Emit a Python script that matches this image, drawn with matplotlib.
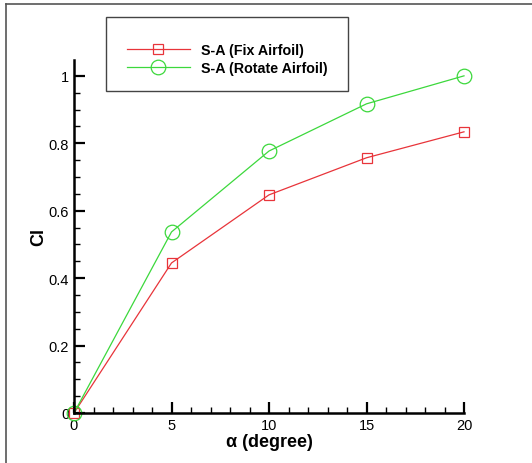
import matplotlib.pyplot as plt
from matplotlib.lines import Line2D
from matplotlib.patches import Rectangle
from matplotlib.ticker import MultipleLocator

plt.rcParams['font.family'] = ['Liberation Sans', 'DejaVu Sans']

# Datos
alpha = [0, 5, 10, 15, 20]
cl_fix = [0.0, 0.445, 0.647, 0.757, 0.834]
cl_rotate = [0.0, 0.537, 0.777, 0.917, 1.0]

W, H = 532, 464
fig = plt.figure(figsize=(W / 100, H / 100), dpi=100)

# Marco exterior (solo arriba e izquierda visibles)
fig.add_artist(Line2D([6/W, 1], [1 - 5/H, 1 - 5/H], color='#555555', lw=1.2, transform=fig.transFigure))
fig.add_artist(Line2D([6/W, 6/W], [0, 1 - 5/H], color='#555555', lw=1.2, transform=fig.transFigure))

ax = fig.add_axes([74/W, 1 - 414/H, 390/W, 353/H])

ax.plot(alpha, cl_fix, color='#e8343a', lw=0.9, marker='s', markersize=7.5,
        markerfacecolor='none', markeredgecolor='#e8343a', markeredgewidth=0.9,
        label='S-A (Fix Airfoil)', clip_on=False)
ax.plot(alpha, cl_rotate, color='#3cd83c', lw=0.9, marker='o', markersize=10.5,
        markerfacecolor='none', markeredgecolor='#3cd83c', markeredgewidth=0.9,
        label='S-A (Rotate Airfoil)', clip_on=False)

ax.set_xlim(0, 20)
ax.set_ylim(0, 1.047)
ax.spines['top'].set_visible(False)
ax.spines['right'].set_visible(False)
ax.spines['left'].set_linewidth(1.8)
ax.spines['bottom'].set_linewidth(1.8)

ax.xaxis.set_major_locator(MultipleLocator(5))
ax.xaxis.set_minor_locator(MultipleLocator(1))
ax.yaxis.set_minor_locator(MultipleLocator(0.05))
ax.tick_params(which='major', direction='in', length=8, width=1.6, labelsize=10.5, pad=3.5)
ax.tick_params(which='minor', direction='in', length=4, width=1)
ax.set_yticks([0, 0.2, 0.4, 0.6, 0.8, 1.0])
ax.set_yticklabels(['0', '0.2', '0.4', '0.6', '0.8', '1'])

ax.set_xlabel('α (degree)', fontsize=13, fontweight='bold', labelpad=1)
ax.set_ylabel('Cl', fontsize=13, fontweight='bold', labelpad=1)

# Leyenda con marco dibujado a mano
fig.add_artist(Rectangle((106/W, 1 - 92/H), 242/W, 74/H, transform=fig.transFigure,
                         fill=False, edgecolor='#444444', lw=1.0))
leg = ax.legend(loc='center left', bbox_to_anchor=(127/W, 1 - 60/H), bbox_transform=fig.transFigure,
                prop={'weight': 'bold', 'size': 10.3}, frameon=False, borderpad=0,
                handlelength=4.4, labelspacing=0.25, handletextpad=0.75, borderaxespad=0)

plt.savefig('out.png', dpi=100)
